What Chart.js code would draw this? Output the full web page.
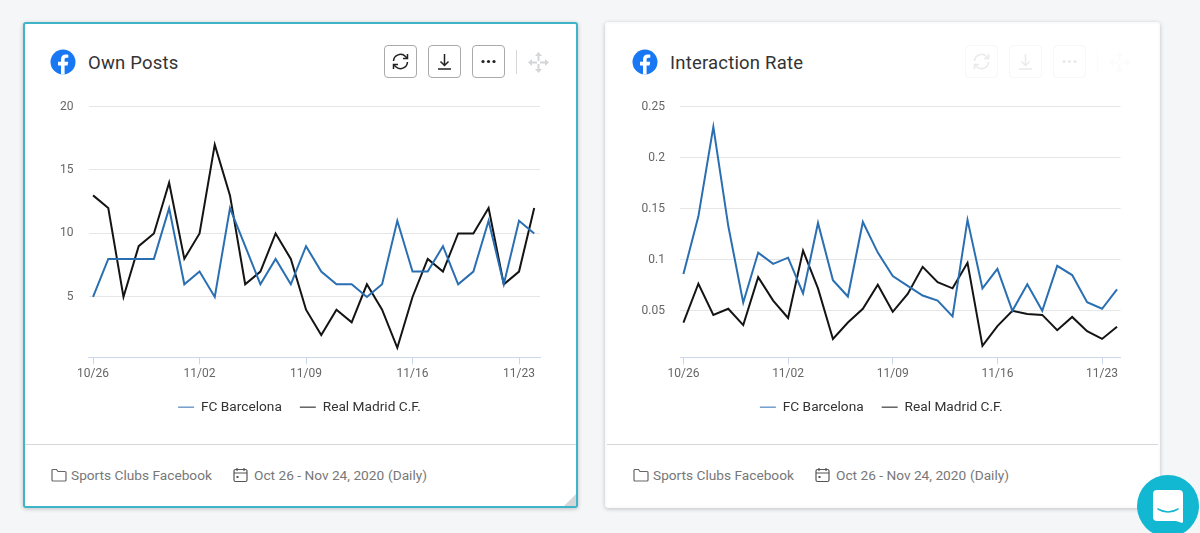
<!DOCTYPE html>
<html>
<head>
<meta charset="utf-8">
<script src="https://cdn.jsdelivr.net/npm/chart.js@4/dist/chart.umd.min.js"></script>
<style>
  html, body { margin: 0; padding: 0; }
  body { width: 1200px; height: 533px; background: #f4f6f8; overflow: hidden; position: relative; font-family: Roboto, sans-serif; }
  .card { position: absolute; top: 22px; height: 486px; background: #fff; box-sizing: border-box; border-radius: 3px; box-shadow: 0 1px 4px rgba(0,0,0,.22); }
  #card1 { left: 23px; width: 555px; border: 2px solid #3fb4c9; }
  #card2 { left: 605px; width: 555px; border: 2px solid #fbfbfc; }
  .abs { position: absolute; }
  canvas { position: absolute; top: 70px; }
  .title { position: absolute; top: 28px; left: 63px; font-size: 18.5px; line-height: 22px; color: #333; letter-spacing: .2px; }
  .divider { position: absolute; left: 0; right: 0; top: 420px; height: 1px; background: #d5d7da; }
  .foot { position: absolute; top: 442px; font-size: 13.7px; line-height: 18px; color: #777; white-space: nowrap; }
  .btn { position: absolute; top: 21px; width: 33px; height: 33px; box-sizing: border-box; border: 1px solid #aaa; border-radius: 4px; }
  .btn svg { position: absolute; left: 5px; top: 5px; }
  .sep { position: absolute; top: 26px; width: 1px; height: 24px; background: #d8d8d8; }
  .tools { position: absolute; left: 0; top: 0; }
  #card2 .tools { left: -1px; opacity: .09; }
  .grip { position: absolute; right: 0; bottom: 0; width: 0; height: 0; border-left: 12px solid transparent; border-bottom: 12px solid #d4d6d8; }
  #chat { position: absolute; left: 1137px; top: 475px; }
</style>
</head>
<body>
<div class="card" id="card1"></div>
<div class="card" id="card2"></div>
<svg id="chat" width="63" height="62" viewBox="0 0 63 62">
  <circle cx="31" cy="31" r="31" fill="#12b7d1"/>
  <path d="M20 15h22a4 4 0 0 1 4 4v28l-1 1-6-2H20a4 4 0 0 1-4-4V19a4 4 0 0 1 4-4z" fill="#fff"/>
  <path d="M21 34q10 6 20 0" fill="none" stroke="#12b7d1" stroke-width="1.6" stroke-linecap="round"/>
</svg>
<script>
const dayLabels = ["10/26","10/27","10/28","10/29","10/30","10/31","11/01","11/02","11/03","11/04","11/05","11/06","11/07","11/08","11/09","11/10","11/11","11/12","11/13","11/14","11/15","11/16","11/17","11/18","11/19","11/20","11/21","11/22","11/23","11/24"];
const shownDays = ["10/26","11/02","11/09","11/16","11/23"];
const seriesNames = ["FC Barcelona","Real Madrid C.F."];

const postsBarca = [5,8,8,8,8,12,6,7,5,12,9,6,8,6,9,7,6,6,5,6,11,7,7,9,6,7,11,6,11,10];
const postsMadrid = [13,12,5,9,10,14,8,10,17,13,6,7,10,8,4,2,4,3,6,4,1,5,8,7,10,10,12,6,7,12];
const postsTicks = [5,10,15,20];

const rateBarca = [0.086,0.1425,0.23,0.133,0.058,0.107,0.096,0.102,0.067,0.136,0.08,0.064,0.137,0.107,0.084,0.0745,0.065,0.06,0.0445,0.139,0.072,0.091,0.05,0.076,0.05,0.094,0.085,0.0585,0.052,0.071];
const rateMadrid = [0.0385,0.0765,0.046,0.052,0.036,0.083,0.06,0.043,0.109,0.072,0.0225,0.0385,0.052,0.0755,0.049,0.0665,0.093,0.078,0.072,0.097,0.0157,0.035,0.05,0.047,0.046,0.031,0.044,0.03,0.0225,0.0345];
const rateTicks = [0.05,0.1,0.15,0.2,0.25];

const BLUE = "#2a6fb2";
const BLACK = "#141414";

/* header + footer of a card */
function buildCard(id, title) {
  const card = document.getElementById(id);
  const faded = id === "card2";
  card.innerHTML = `
    <svg class="abs" style="left:25px;top:25px" width="26" height="26" viewBox="0 0 26 26">
      <circle cx="13" cy="13" r="12.5" fill="#1877f2"/>
      <path d="M14.6 25.4V16.4h3l.6-3.6h-3.6v-2.1c0-1.1.5-1.9 2-1.9h1.7V5.7c-.6-.1-1.6-.2-2.6-.2-2.9 0-4.7 1.700-4.700 4.800v2.500H8v3.600h3v9z" fill="#fff"/>
    </svg>
    <div class="title">${title}</div>
    <div class="tools">
      <div class="btn" style="left:359px"><svg width="21" height="21" viewBox="0 0 21 21" fill="none" stroke="#222" stroke-width="1.5"><path d="M3.500 10a7 7 0 0 1 12-4.500l1.500 1.500M17.500 11a7 7 0 0 1-12 4.500L4 14"/><path d="M17.500 3v4.500H13M3.500 18v-4.500H8"/></svg></div>
      <div class="btn" style="left:403px"><svg width="21" height="21" viewBox="0 0 21 21" fill="none" stroke="#222" stroke-width="1.5"><path d="M10.500 3v11M6.500 10.500l4 4 4-4M4 18h13"/></svg></div>
      <div class="btn" style="left:447px"><svg width="21" height="21" viewBox="0 0 21 21" fill="#222"><circle cx="5" cy="10.500" r="1.600"/><circle cx="10.500" cy="10.500" r="1.600"/><circle cx="16" cy="10.500" r="1.600"/></svg></div>
      <div class="sep" style="left:491px"></div>
      <svg class="abs" style="left:502px;top:27px" width="23" height="23" viewBox="0 0 23 23" fill="#d4d6d8">
        <path d="M11.500 1l3.500 4h-2.500v5h-2V5H8zM11.500 22l3.500-4h-2.500v-5h-2v5H8zM1 11.500l4-3.500v2.500h5v2H5V15zM22 11.500l-4-3.500v2.500h-5v2h5V15z"/>
      </svg>
    </div>
    <div class="divider"></div>
    <svg class="abs" style="left:26px;top:444px" width="16" height="14" viewBox="0 0 16 14" fill="none" stroke="#666" stroke-width="1.2"><path d="M1 2.500a1 1 0 0 1 1-1h3.500l1.500 2h7a1 1 0 0 1 1 1v7.500a1 1 0 0 1-1 1H2a1 1 0 0 1-1-1z"/></svg>
    <div class="foot" style="left:46px">Sports Clubs Facebook</div>
    <svg class="abs" style="left:208px;top:443px" width="15" height="16" viewBox="0 0 15 16" fill="none" stroke="#555" stroke-width="1.2"><rect x="1" y="2.500" width="13" height="12" rx="1.500"/><path d="M1 6h13M4 1v3M11 1v3"/><rect x="3.500" y="9" width="2" height="2" fill="#555" stroke="none"/></svg>
    <div class="foot" style="left:229px">Oct 26 - Nov 24, 2020</div>
    <div class="foot" style="left:363px">(Daily)</div>
    ${faded ? "" : '<div class="grip"></div>'}
    <canvas id="${id}-chart"></canvas>`;
}

function toPoints(values) {
  return values.map((v, i) => ({ x: i, y: v }));
}

function renderChart(canvasId, opt) {
  const canvas = document.getElementById(canvasId);
  canvas.width = opt.width;
  canvas.height = 350;
  canvas.style.left = opt.left + "px";

  new Chart(canvas, {
    type: "line",
    data: {
      datasets: [
        { label: seriesNames[0], data: toPoints(opt.barca), borderColor: BLUE, backgroundColor: BLUE },
        { label: seriesNames[1], data: toPoints(opt.madrid), borderColor: BLACK, backgroundColor: BLACK }
      ]
    },
    options: {
      responsive: false,
      animation: false,
      devicePixelRatio: 1,
      elements: {
        point: { radius: 0 },
        line: { borderWidth: 2, tension: 0, borderJoinStyle: "miter" }
      },
      layout: { autoPadding: false, padding: { top: 12.5, left: opt.padLeft, right: opt.padRight, bottom: 20 } },
      plugins: {
        tooltip: { enabled: false },
        legend: {
          position: "bottom",
          labels: {
            usePointStyle: true,
            pointStyle: "line",
            pointStyleWidth: 16,
            boxHeight: 13,
            padding: 18,
            color: "#333",
            font: { family: "Roboto", size: 13.7 }
          }
        }
      },
      scales: {
        x: {
          type: "linear",
          min: opt.xMin,
          max: opt.xMax,
          afterBuildTicks: s => { s.ticks = shownDays.map(d => ({ value: dayLabels.indexOf(d) })); },
          afterFit: s => { s.height = 25; s.paddingLeft = 0; s.paddingRight = 0; },
          ticks: {
            autoSkip: false,
            maxRotation: 0,
            padding: 2,
            color: "#666",
            font: { family: "Roboto", size: 12 },
            callback: v => dayLabels[v]
          },
          grid: { drawOnChartArea: false, tickLength: 7, tickColor: "#ccd6eb" },
          border: { color: "#ccd6eb" }
        },
        y: {
          min: opt.yMin,
          max: opt.yMax,
          afterBuildTicks: s => { s.ticks = opt.yTicks.map(v => ({ value: v })); },
          // tick padding would otherwise push the plot down
          afterFit: s => { s.width = opt.axisWidth; s.paddingTop = 0; s.paddingBottom = 0; },
          ticks: {
            padding: 15,
            color: "#666",
            font: { family: "Roboto", size: 12 },
            callback: v => String(v)
          },
          grid: { drawTicks: false, color: "#e6e6e6" },
          border: { display: false }
        }
      }
    }
  });
}

buildCard("card1", "Own Posts");
buildCard("card2", "Interaction Rate");

renderChart("card1-chart", {
  barca: postsBarca, madrid: postsMadrid, yTicks: postsTicks,
  yMin: 0.25, yMax: 20, xMin: -0.3, xMax: 29.38,
  width: 551, left: 0, padLeft: 34, padRight: 36, axisWidth: 29.5
});
renderChart("card2-chart", {
  barca: rateBarca, madrid: rateMadrid, yTicks: rateTicks,
  yMin: 0.0045, yMax: 0.25, xMin: -0.23, xMax: 29.24,
  width: 551, left: -2, padLeft: 37, padRight: 35.4, axisWidth: 38
});
</script>
</body>
</html>
